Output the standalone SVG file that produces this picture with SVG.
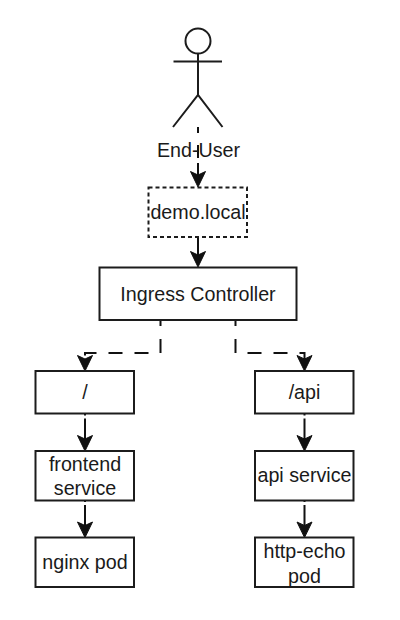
<svg xmlns="http://www.w3.org/2000/svg" width="400" height="620" viewBox="0 0 400 620">
<style>
.n{fill:#fff;stroke:#1c1c1c;stroke-width:2}
.d{stroke-dasharray:4 3}
.l{fill:none;stroke:#1c1c1c;stroke-width:2}
.c{fill:none;stroke:#111;stroke-width:2}
.h{fill:#111;stroke:#111;stroke-width:1}
text{font-family:"Liberation Sans",Arial,sans-serif;font-size:19.700px;fill:#1a1a1a;text-anchor:middle}
</style>
<defs>
<path id="a" class="h" d="M0 0L-7.500-15.500L0-12L7.500-15.500Z"/>
</defs>
<rect width="400" height="620" fill="#fff"/>
<g id="connectors">
<path class="c" d="M198 127V176" stroke-dasharray="6 12 13 5 100"/>
<use href="#a" x="198" y="187"/>
<path class="c" d="M198 237V256"/>
<use href="#a" x="198" y="267"/>
<path class="c" d="M160.500 320V353H85V361" stroke-dasharray="6 13 14 12 14 12 14 12 14 12"/>
<use href="#a" x="85" y="371"/>
<path class="c" d="M235.500 320V353H304.500V361" stroke-dasharray="6 13 14 12 14 12 14 12 14 12 9 5"/>
<use href="#a" x="304.500" y="371"/>
<path class="c" d="M85 413.500V440" stroke-dasharray="2 3 100"/>
<use href="#a" x="85" y="451"/>
<path class="c" d="M85 500V527" stroke-dasharray="2 3 100"/>
<use href="#a" x="85" y="537.500"/>
<path class="c" d="M304.500 413.500V440" stroke-dasharray="2 3 100"/>
<use href="#a" x="304.500" y="451"/>
<path class="c" d="M304.500 500V527" stroke-dasharray="2 3 100"/>
<use href="#a" x="304.500" y="537.500"/>
</g>
<g id="end-user">
<circle class="l" cx="198" cy="41" r="12.500"/>
<path class="l" d="M198 53.500V95M173.500 61.500H222M173 127L198 95L222.500 127"/>
<text x="198.500" y="157">End-User</text>
</g>
<g id="demo-local">
<rect class="n d" x="148.500" y="187.500" width="98.500" height="49.500"/>
<text x="198" y="219">demo.local</text>
</g>
<g id="ingress">
<rect class="n" x="99.500" y="267.500" width="197" height="52.500"/>
<text x="198" y="301">Ingress Controller</text>
</g>
<g id="root-path">
<rect class="n" x="35.500" y="371" width="98.500" height="42.500"/>
<text x="85" y="399">/</text>
</g>
<g id="frontend-service">
<rect class="n" x="35.500" y="451" width="98.500" height="49.500"/>
<text x="85" y="471">frontend</text>
<text x="85" y="495">service</text>
</g>
<g id="nginx-pod">
<rect class="n" x="35.500" y="537.500" width="98.500" height="49.500"/>
<text x="85" y="569">nginx pod</text>
</g>
<g id="api-path">
<rect class="n" x="255" y="371" width="98.500" height="42.500"/>
<text x="304.500" y="399">/api</text>
</g>
<g id="api-service">
<rect class="n" x="255" y="451" width="98.500" height="49.500"/>
<text x="304.500" y="482">api service</text>
</g>
<g id="http-echo-pod">
<rect class="n" x="255" y="537.500" width="98.500" height="49.500"/>
<text x="304.500" y="558">http-echo</text>
<text x="304.500" y="583">pod</text>
</g>
</svg>
